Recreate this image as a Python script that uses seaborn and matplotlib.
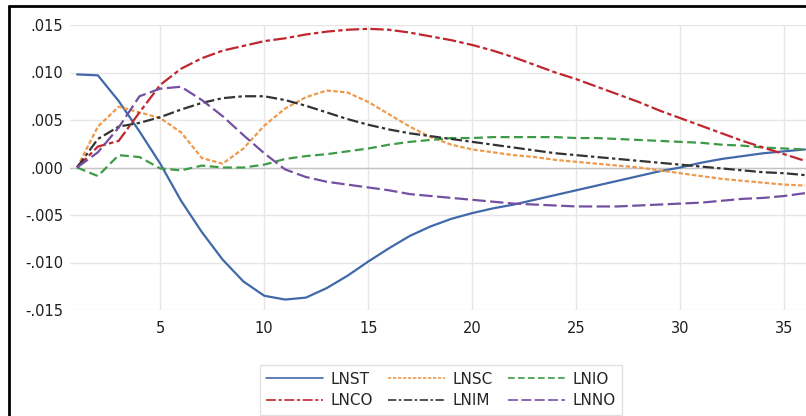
import matplotlib
matplotlib.use("Agg")
import matplotlib.pyplot as plt
from matplotlib.lines import Line2D
import pandas as pd
import seaborn as sns

periods = list(range(1, 37))

lnst = [0.0098, 0.0097, 0.0070, 0.0038, 0.0004, -0.0035, -0.0068, -0.0097, -0.0120,
        -0.0135, -0.0139, -0.0137, -0.0127, -0.0114, -0.0099, -0.0085, -0.0072, -0.0062,
        -0.0054, -0.0048, -0.0043, -0.0039, -0.0034, -0.0029, -0.0024, -0.0019, -0.0014,
        -0.0009, -0.0004, 0.0000, 0.0005, 0.0009, 0.0012, 0.0015, 0.0017, 0.0019]
lnsc = [0.0000, 0.0043, 0.0064, 0.0058, 0.0052, 0.0037, 0.0010, 0.0004, 0.0020,
        0.0044, 0.0062, 0.0074, 0.0081, 0.0079, 0.0069, 0.0056, 0.0043, 0.0032,
        0.0024, 0.0019, 0.0016, 0.0013, 0.0011, 0.0008, 0.0006, 0.0004, 0.0002,
        0.0000, -0.0003, -0.0006, -0.0009, -0.0012, -0.0014, -0.0016, -0.0018, -0.0019]
lnio = [0.0000, -0.0009, 0.0013, 0.0011, -0.0001, -0.0003, 0.0002, 0.0000, 0.0000,
        0.0003, 0.0009, 0.0012, 0.0014, 0.0017, 0.0020, 0.0024, 0.0027, 0.0029,
        0.0031, 0.0031, 0.0032, 0.0032, 0.0032, 0.0032, 0.0031, 0.0031, 0.0030,
        0.0029, 0.0028, 0.0027, 0.0026, 0.0024, 0.0023, 0.0021, 0.0020, 0.0019]
lnco = [0.0000, 0.0022, 0.0028, 0.0058, 0.0087, 0.0104, 0.0115, 0.0123, 0.0128,
        0.0133, 0.0136, 0.0140, 0.0143, 0.0145, 0.0146, 0.0145, 0.0142, 0.0138,
        0.0134, 0.0129, 0.0123, 0.0116, 0.0108, 0.0100, 0.0093, 0.0085, 0.0077,
        0.0069, 0.0060, 0.0052, 0.0044, 0.0036, 0.0028, 0.0021, 0.0014, 0.0007]
lnim = [0.0000, 0.0030, 0.0043, 0.0047, 0.0053, 0.0061, 0.0068, 0.0073, 0.0075,
        0.0075, 0.0071, 0.0065, 0.0058, 0.0051, 0.0045, 0.0040, 0.0036, 0.0033,
        0.0030, 0.0027, 0.0024, 0.0021, 0.0018, 0.0015, 0.0013, 0.0011, 0.0009,
        0.0007, 0.0005, 0.0003, 0.0001, -0.0001, -0.0003, -0.0005, -0.0006, -0.0008]
lnno = [0.0000, 0.0016, 0.0042, 0.0075, 0.0083, 0.0085, 0.0071, 0.0054, 0.0034,
        0.0015, -0.0002, -0.0010, -0.0015, -0.0018, -0.0021, -0.0024, -0.0028, -0.0030,
        -0.0032, -0.0034, -0.0036, -0.0038, -0.0039, -0.0040, -0.0041, -0.0041, -0.0041,
        -0.0040, -0.0039, -0.0038, -0.0037, -0.0035, -0.0033, -0.0032, -0.0030, -0.0027]

series = {"LNST": lnst, "LNSC": lnsc, "LNIO": lnio,
          "LNCO": lnco, "LNIM": lnim, "LNNO": lnno}
y_ticks = [-0.015, -0.010, -0.005, 0.000, 0.005, 0.010, 0.015]
x_ticks = [5, 10, 15, 20, 25, 30, 35]

palette = {"LNST": "#4169AA", "LNSC": "#EE9A4D", "LNIO": "#3F9A45",
           "LNCO": "#C0262D", "LNIM": "#333333", "LNNO": "#7450A2"}
dashes = {"LNST": "", "LNSC": (2, 1), "LNIO": (4, 2),
          "LNCO": (6, 1.5, 2, 1.5), "LNIM": (5, 1.5, 1.5, 1.5), "LNNO": (6, 2)}

df = pd.DataFrame(
    [(p, name, v) for name, vals in series.items() for p, v in zip(periods, vals)],
    columns=["period", "series", "value"],
)

sns.set_style("white")
plt.rcParams["font.family"] = ["DejaVu Sans"]

fig = plt.figure(figsize=(8.06, 4.16), dpi=100)
ax = fig.add_axes([70 / 806, 106 / 416, 736 / 806, 285 / 416])

sns.lineplot(data=df, x="period", y="value", hue="series", style="series",
             palette=palette, dashes=dashes, linewidth=1.6, ax=ax)

ax.set_xlim(0.66, 36.05)
ax.set_ylim(-0.015, 0.015)
ax.set_xticks(x_ticks)
ax.set_yticks(y_ticks)
ax.set_yticklabels([f"{v:.3f}".replace("0.", ".") for v in y_ticks])
ax.tick_params(axis="both", length=0, labelsize=10.5, colors="#1E1E1E")
ax.tick_params(axis="y", pad=5)
ax.tick_params(axis="x", pad=8)
ax.set_xlabel("")
ax.set_ylabel("")
ax.grid(True, color="#E6E6E6", linewidth=1)
ax.axhline(0, color="#C4C4C4", linewidth=1, zorder=1)
for s in ax.spines.values():
    s.set_visible(False)

# legend: two rows of three, same order as the original
order = ["LNST", "LNCO", "LNSC", "LNIM", "LNIO", "LNNO"]
leg_handles = []
for name in order:
    nh = Line2D([], [], color=palette[name], linewidth=1.2)
    if dashes[name]:
        nh.set_dashes(dashes[name])
    leg_handles.append(nh)
leg = ax.legend(leg_handles, order, ncol=3, loc="upper center",
                bbox_to_anchor=(441 / 806, 1 - 357 / 416), bbox_transform=fig.transFigure,
                fontsize=11, handlelength=3.7, handletextpad=0.5, columnspacing=1.0,
                labelspacing=0.45, borderpad=0.45, frameon=True, fancybox=False)
leg.get_frame().set_edgecolor("#DADADA")
leg.get_frame().set_linewidth(1)

# black frame on left and top, as in the cropped original
fig.add_artist(Line2D([9 / 806, 9 / 806], [0, 1 - 6 / 416], color="black",
                      linewidth=2, transform=fig.transFigure))
fig.add_artist(Line2D([9 / 806, 1], [1 - 6 / 416, 1 - 6 / 416], color="black",
                      linewidth=2, transform=fig.transFigure))

fig.savefig("out.png", dpi=100)
